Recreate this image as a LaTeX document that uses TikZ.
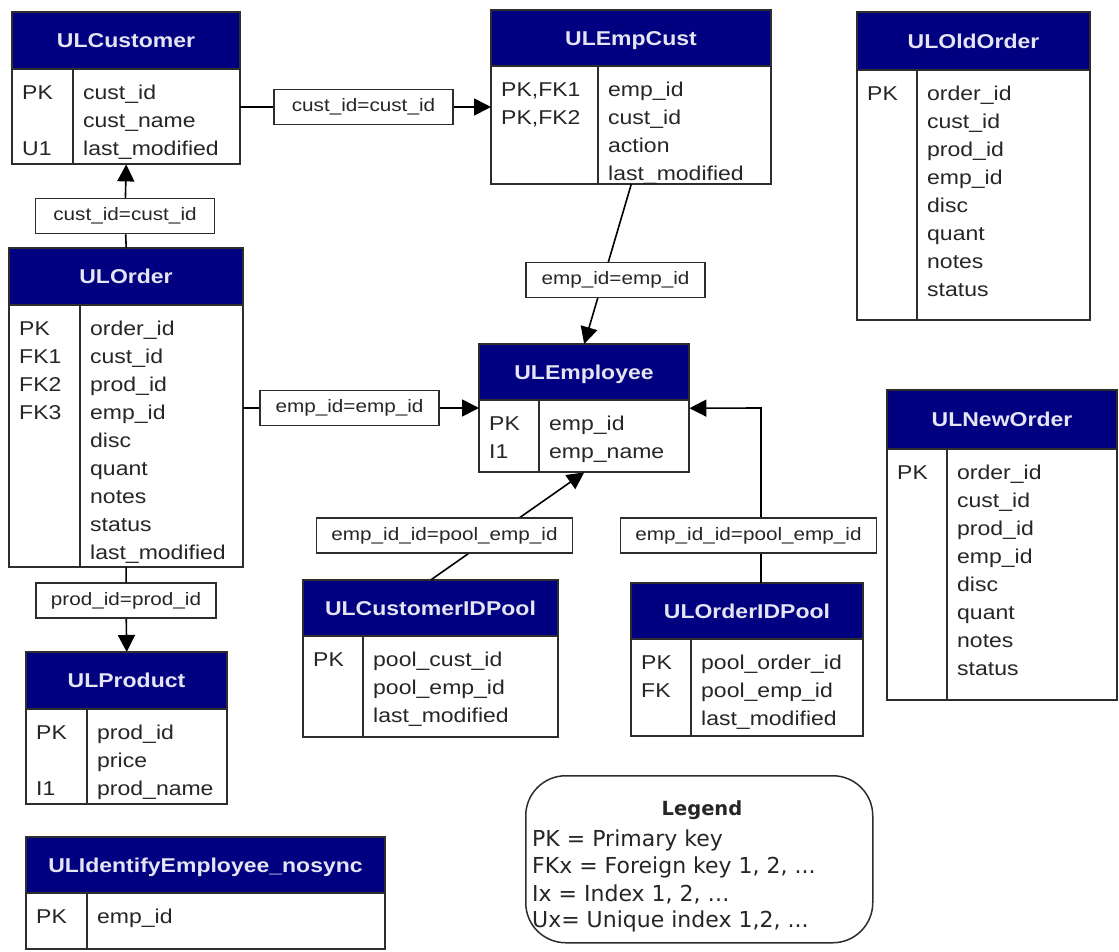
\documentclass[tikz,border=0pt]{standalone}
\usepackage{fontspec}
\newfontfamily\tabfont[FakeStretch=1.15]{Liberation Sans}
\newfontfamily\legfont{DejaVu Sans}
\usetikzlibrary{arrows.meta}
\definecolor{headblue}{RGB}{0,0,128}
\definecolor{titlecol}{RGB}{228,228,242}
\definecolor{txtcol}{RGB}{38,38,38}
\definecolor{linecol}{RGB}{45,45,45}
\tikzset{
  tablebox/.style={draw=none, inner sep=0pt, anchor=north west},
  tableline/.style={draw=linecol, line width=1.6pt},
  headfill/.style={fill=headblue},
  titletext/.style={text=titlecol, font=\tabfont\fontsize{20}{24}\selectfont\bfseries, anchor=base, inner sep=0pt},
  keytext/.style={text=txtcol, font=\tabfont\fontsize{20}{24}\selectfont, anchor=base west, inner sep=0pt},
  reltext/.style={draw=linecol, line width=1.5pt, fill=white, text=txtcol,
    font=\tabfont\fontsize{18}{22}\selectfont, minimum height=35pt, minimum width=179pt,
    inner xsep=15pt, inner ysep=0pt},
  conn/.style={draw=black, line width=1.6pt},
  arr/.style={conn, -{Triangle[length=17pt,width=17pt]}},
  legendbox/.style={draw=linecol, line width=1.5pt, rounded corners=40pt, inner sep=0pt, anchor=north west},
  legtext/.style={text=txtcol, font=\legfont\fontsize{22}{26}\selectfont, anchor=base west, inner sep=0pt},
  legtitle/.style={text=txtcol, font=\legfont\fontsize{19.5}{24}\selectfont\bfseries, anchor=base, inner sep=0pt},
}
\newcommand{\ertab}[9]{%
  \pgfmathsetmacro{\ertw}{#4-#2}%
  \pgfmathsetmacro{\erth}{#6-#3}%
  \node[tablebox, minimum width=\ertw pt, minimum height=\erth pt] (#1) at (#2,#3) {};
  \fill[headfill] (#2,#3) rectangle (#4,#5);
  \draw[tableline] (#2,#3) rectangle (#4,#6) (#2,#5) -- (#4,#5) (#7,#5) -- (#7,#6);
  \node[titletext] (#1-title) at ({(#2+#4)/2},{(#3+#5)/2+7}) {#8};
  \foreach \k/\f [count=\i from 0] in {#9} {
    \node[keytext] (#1-k\i) at (#2+10,{#5+30+28*\i}) {\k};
    \node[keytext] (#1-f\i) at (#7+10,{#5+30+28*\i}) {\f};
  }%
}
\begin{document}
\begin{tikzpicture}[x=1pt,y=-1pt]
\useasboundingbox[fill=white] (0,0) rectangle (1119,951);

% tables
\ertab{cust}{12}{12}{240}{69}{164}{73}{ULCustomer}{PK/cust\_id, /cust\_name, U1/last\_modified}
\ertab{empcust}{491}{10}{771}{66}{184}{598}{ULEmpCust}{PK{,}FK1/emp\_id, PK{,}FK2/cust\_id, /action, /last\_modified}
\ertab{oldorder}{857}{12}{1090}{70}{320}{917}{ULOldOrder}{PK/order\_id, /cust\_id, /prod\_id, /emp\_id, /disc, /quant, /notes, /status}
\ertab{order}{9}{248}{243}{305}{567}{80}{ULOrder}{PK/order\_id, FK1/cust\_id, FK2/prod\_id, FK3/emp\_id, /disc, /quant, /notes, /status, /last\_modified}
\ertab{employee}{479}{344}{689}{400}{472}{539}{ULEmployee}{PK/emp\_id, I1/emp\_name}
\ertab{neworder}{887}{390}{1117}{449}{700}{947}{ULNewOrder}{PK/order\_id, /cust\_id, /prod\_id, /emp\_id, /disc, /quant, /notes, /status}
\ertab{cidpool}{303}{580}{558}{636}{737}{363}{ULCustomerIDPool}{PK/pool\_cust\_id, /pool\_emp\_id, /last\_modified}
\ertab{oidpool}{631}{583}{863}{639}{736}{691}{ULOrderIDPool}{PK/pool\_order\_id, FK/pool\_emp\_id, /last\_modified}
\ertab{product}{26}{652}{227}{709}{804}{87}{ULProduct}{PK/prod\_id, /price, I1/prod\_name}
\ertab{identify}{26}{837}{385}{893}{949}{87}{ULIdentifyEmployee\_nosync}{PK/emp\_id}

% relationship labels
\node[reltext] (lcc) at (363.5,107) {cust\_id=cust\_id};
\node[reltext] (loc) at (125,216) {cust\_id=cust\_id};
\node[reltext] (loe) at (349.5,408) {emp\_id=emp\_id};
\node[reltext] (lop) at (126,600.5) {prod\_id=prod\_id};
\coordinate (rc) at (761,408);

% connectors
\draw[conn] (cust.east |- lcc) -- (lcc);
\draw[arr] (lcc) -- (empcust.west |- lcc);
\draw[conn] (order.north) -- (loc);
\draw[arr] (loc) -- (cust.south);
\draw[conn] (order.east |- loe) -- (loe);
\draw[arr] (loe) -- (employee.west |- loe);
\draw[conn] (order.south) -- (lop);
\draw[arr] (lop) -- (product.north);
\draw[arr] (empcust.south) -- (employee.north);
\draw[arr] (cidpool.north) -- (employee.south);
\draw[arr] (oidpool.north -| rc) -- (rc) -- (employee.east);

\node[reltext] (lee) at (615.5,280) {emp\_id=emp\_id};
\node[reltext] (lcp) at (444.5,535.5) {emp\_id\_id=pool\_emp\_id};
\node[reltext] (lrp) at (748.5,535.5) {emp\_id\_id=pool\_emp\_id};

% legend
\node[legendbox, minimum width=347pt, minimum height=167pt] (legend) at (525,775) {};
\node[legtitle] (leg0) at (702,815) {Legend};
\node[legtext] (leg1) at (532,846) {PK = Primary key};
\node[legtext] (leg2) at (532,873) {FKx = Foreign key 1, 2, ...};
\node[legtext] (leg3) at (532,901) {Ix = Index 1, 2, …};
\node[legtext] (leg4) at (532,927) {Ux= Unique index 1,2, ...};
\end{tikzpicture}
\end{document}
